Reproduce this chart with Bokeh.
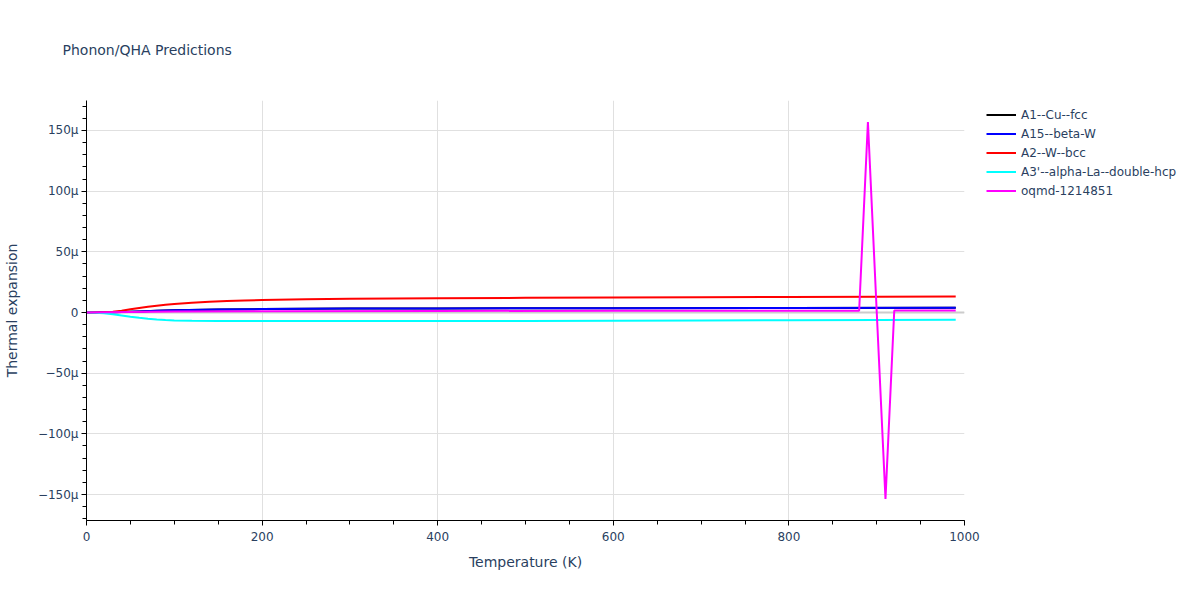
from bokeh.plotting import figure
from bokeh.models import FixedTicker, Legend, LegendItem, Span, Range1d
from bokeh.embed import file_html
from bokeh.resources import INLINE

# Thermal expansion values in units of 1e-6 (μ) per K
names = ["A1--Cu--fcc", "A15--beta-W", "A2--W--bcc", "A3'--alpha-La--double-hcp", "oqmd-1214851"]
colors = ["black", "blue", "red", "cyan", "magenta"]

t_cu = [0, 20, 40, 60, 80, 100, 150, 200, 300, 400, 600, 800, 990]
a_cu = [0, 0.1, 0.4, 0.9, 1.4, 1.8, 2.4, 2.8, 3.2, 3.4, 3.6, 3.8, 3.9]

t_betaw = [0, 20, 40, 60, 80, 100, 150, 200, 300, 400, 600, 800, 990]
a_betaw = [0, 0.1, 0.4, 0.9, 1.4, 1.8, 2.4, 2.8, 3.2, 3.4, 3.6, 3.8, 3.9]

t_w = [0, 10, 20, 30, 40, 50, 60, 70, 80, 90, 100, 120, 140, 160, 180, 200, 250, 300, 400, 500, 600, 700, 800, 900, 990]
a_w = [0, 0.05, 0.2, 0.7, 1.5, 2.6, 3.7, 4.7, 5.6, 6.4, 7.0, 8.0, 8.8, 9.4, 9.9, 10.3, 10.9, 11.3, 11.8, 12.1, 12.4, 12.6, 12.8, 13.0, 13.2]

t_la = [0, 10, 20, 30, 40, 50, 60, 70, 80, 90, 100, 120, 150, 200, 300, 400, 500, 600, 700, 800, 900, 990]
a_la = [0, -0.2, -0.7, -1.5, -2.5, -3.5, -4.4, -5.2, -5.8, -6.2, -6.5, -6.8, -7.0, -7.1, -7.1, -7.0, -6.9, -6.7, -6.5, -6.3, -6.1, -6.0]

t_oqmd = [0, 50, 100, 200, 400, 600, 800, 870, 880, 890, 900, 910, 920, 990]
a_oqmd = [0, 0.4, 0.8, 1.1, 1.3, 1.4, 1.5, 1.5, 1.5, 157.0, 1.0, -153.6, 1.6, 1.6]

series_t = [t_cu, t_betaw, t_w, t_la, t_oqmd]
series_a = [a_cu, a_betaw, a_w, a_la, a_oqmd]

x_ticks = [0, 200, 400, 600, 800, 1000]
y_ticks = [-150, -100, -50, 0, 50, 100, 150]
y_tick_labels = {-150: "\u2212150\u03bc", -100: "\u2212100\u03bc", -50: "\u221250\u03bc", 0: "0",
                 50: "50\u03bc", 100: "100\u03bc", 150: "150\u03bc"}

TXT = "#2a3f5f"
FONT = "DejaVu Sans"

p = figure(frame_width=878, frame_height=420, output_backend="svg", toolbar_location=None,
           x_range=Range1d(0, 1000), y_range=Range1d(-171.4, 174.7),
           min_border_left=77, min_border_right=215, min_border_top=99, min_border_bottom=68,
           x_axis_label="Temperature (K)", y_axis_label="Thermal expansion")
p.background_fill_color = "white"
p.border_fill_color = "white"
p.outline_line_color = None

p.title.text = "Phonon/QHA Predictions"
p.title.align = "left"
p.title.vertical_align = "top"
p.title.offset = -24
p.title.standoff = 82
p.title.text_font = FONT
p.title.text_font_size = "14px"
p.title.text_font_style = "normal"
p.title.text_color = TXT

p.xaxis.ticker = FixedTicker(ticks=x_ticks, minor_ticks=list(range(0, 1001, 50)))
p.yaxis.ticker = FixedTicker(ticks=y_ticks, minor_ticks=list(range(-170, 171, 10)))
p.yaxis.major_label_overrides = y_tick_labels

for ax in (p.xaxis, p.yaxis):
    ax.axis_line_color = "black"
    ax.axis_line_width = 1
    ax.major_tick_line_color = "black"
    ax.minor_tick_line_color = "black"
    ax.major_tick_in = 0
    ax.minor_tick_in = 0
    ax.major_tick_out = 5
    ax.minor_tick_out = 4
    ax.major_label_text_font = FONT
    ax.major_label_text_font_size = "12px"
    ax.major_label_text_color = TXT
    ax.axis_label_text_font = FONT
    ax.axis_label_text_font_size = "14px"
    ax.axis_label_text_font_style = "normal"
    ax.axis_label_text_color = TXT
p.xaxis.major_label_standoff = 6
p.xaxis.axis_label_standoff = 10
p.yaxis.major_label_standoff = 3
p.yaxis.axis_label_standoff = 15

p.xgrid.grid_line_color = "#e0e0e0"
p.ygrid.grid_line_color = "#e0e0e0"
p.xgrid.grid_line_width = 1
p.ygrid.grid_line_width = 1

zero = Span(location=0, dimension="width", line_color="#cccccc", line_width=2, level="underlay")
p.add_layout(zero)

items = []
for name, col, t, a in zip(names, colors, series_t, series_a):
    r = p.line(t, a, line_color=col, line_width=2)
    items.append(LegendItem(label=name, renderers=[r]))

legend = Legend(items=items, location="top_left", margin=0, padding=5,
                title=" ", title_location="left", title_text_font_size="1px", title_standoff=16,
                glyph_width=30, glyph_height=19, label_height=19, spacing=0,
                label_standoff=5, label_text_font=FONT, label_text_font_size="12px",
                label_text_color=TXT, border_line_alpha=0, background_fill_alpha=0)
p.add_layout(legend, "right")

open("out.html", "w").write(file_html(p, INLINE))
